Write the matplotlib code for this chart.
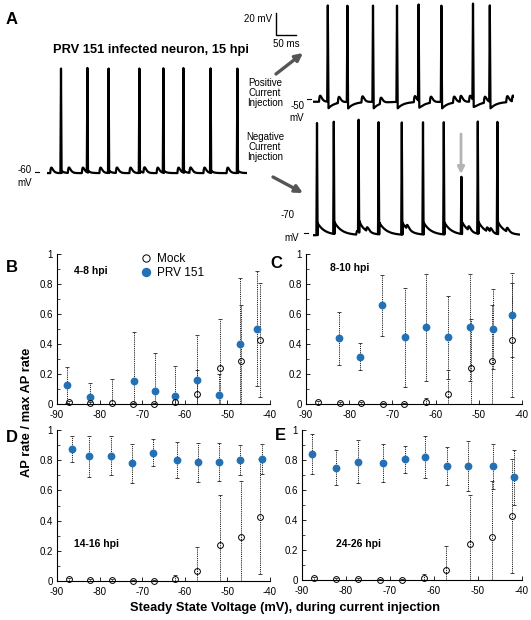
import numpy as np
import matplotlib
matplotlib.use('Agg')
import matplotlib.pyplot as plt

plt.rcParams['font.family'] = ['Liberation Sans', 'DejaVu Sans']
plt.rcParams['axes.unicode_minus'] = False

W, H = 531, 620
BLUE = '#2371b4'

# ---- voltage traces (times in ms) ----
LEFT_SPIKES = [35, 101, 154, 231, 291, 341, 409, 476]
LEFT_BUMPS = [8, 52, 87, 131, 172, 206, 241, 274, 326, 356, 391, 449]
POS_SPIKES = [37, 86, 150, 210, 264, 321, 400, 442]
POS_BUMPS = [15, 62, 121, 167, 252, 292, 350, 367, 390, 427, 483, 497]
NEG_SPIKES = [10, 52, 114, 164, 222, 275, 327, 371, 412, 461]
NEG_PEAKS = [30, 30, 30, 30, 30, 30, 30, -20, 30, 30]
NEG_BUMPS = [108, 133, 233, 387, 433, 442, 483]

# ---- AP rate data ----
MOCK_X = [-87.3, -82.2, -77.2, -72.2, -67.2, -62.3, -57.2, -51.8, -46.9, -42.3]
MOCK_Y = [0.012, 0.008, 0.005, 0.003, 0.003, 0.012, 0.065, 0.24, 0.29, 0.425]
MOCK_SD = [0.01, 0.008, 0.008, 0.005, 0.005, 0.025, 0.16, 0.33, 0.37, 0.38]
MOCK_SD_B = [0.01, 0.008, 0.16, 0.005, 0.005, 0.025, 0.16, 0.33, 0.37, 0.38]

B_X = [-87.7, -82.3, -71.9, -67.0, -62.2, -57.2, -52.0, -47.0, -43.1]
B_Y = [0.127, 0.049, 0.153, 0.087, 0.053, 0.162, 0.058, 0.40, 0.502]
B_SD = [0.123, 0.093, 0.327, 0.255, 0.2, 0.30, 0.14, 0.44, 0.385]

C_X = [-82.3, -77.5, -72.4, -67.0, -62.2, -57.1, -52.1, -46.8, -42.4]
C_Y = [0.438, 0.316, 0.658, 0.444, 0.511, 0.444, 0.511, 0.50, 0.591]
C_SD = [0.175, 0.09, 0.205, 0.33, 0.355, 0.275, 0.355, 0.265, 0.28]

D_X = [-86.5, -82.5, -77.3, -72.5, -67.4, -61.9, -56.8, -52.0, -47.0, -41.8]
D_Y = [0.875, 0.825, 0.83, 0.78, 0.85, 0.80, 0.785, 0.79, 0.80, 0.81]
D_SD = [0.085, 0.135, 0.13, 0.13, 0.09, 0.12, 0.13, 0.125, 0.10, 0.10]

E_X = [-87.8, -82.3, -77.2, -71.6, -66.6, -62.0, -57.1, -52.2, -46.6, -41.8]
E_Y = [0.84, 0.75, 0.79, 0.78, 0.805, 0.82, 0.76, 0.76, 0.76, 0.685]
E_SD = [0.135, 0.115, 0.145, 0.125, 0.09, 0.14, 0.125, 0.165, 0.15, 0.185]

X_TICKS = [-90, -80, -70, -60, -50, -40]
Y_TICKS = [0, 0.2, 0.4, 0.6, 0.8, 1]
Y_LABELS = ['0', '0.2', '0.4', '0.6', '0.8', '1']

MS_PER_PX = 2.5
MV_PER_PX = 1 / 1.1


def box(x0, y0, x1, y1):
    return [x0 / W, 1 - y1 / H, (x1 - x0) / W, (y1 - y0) / H]


def spike_train(t, rest, spikes, peaks, after, tau, bumps, bump_amp):
    v = np.full(t.shape, float(rest))
    for ts, pk in zip(spikes, peaks):
        d = t - ts
        v += (pk - rest) * np.clip(1 - np.abs(d) / 1.5, 0, None)
        tail = d > 1.5
        v[tail] += after * np.exp(-(d[tail] - 1.5) / tau)
    for tb in bumps:
        d = (t - tb) / 3.0
        pos = d > 0
        v[pos] += bump_amp * d[pos] * np.exp(1 - d[pos])
    return v


def trace_axes(x0, x1, y0, y1, ref_px, ref_mv):
    ax = fig.add_axes(box(x0, y0, x1, y1))
    ax.set_xlim(0, (x1 - x0) * MS_PER_PX)
    ax.set_ylim(ref_mv - (y1 - ref_px) * MV_PER_PX, ref_mv + (ref_px - y0) * MV_PER_PX)
    ax.axis('off')
    return ax


def panel(rect, px, py, psd, mock_sd):
    ax = fig.add_axes(box(*rect))
    for xs, ys, sd in [(px, py, psd), (MOCK_X, MOCK_Y, mock_sd)]:
        eb = ax.errorbar(xs, ys, yerr=sd, fmt='none', ecolor='#222222',
                         elinewidth=0.7, capsize=1.6, capthick=0.6, zorder=2)
        eb[2][0].set_linestyle((0, (1.2, 1.0)))
    ax.plot(px, py, 'o', color=BLUE, ms=4.6, mec=BLUE, clip_on=False, zorder=3,
            label='PRV 151')
    ax.plot(MOCK_X, MOCK_Y, 'o', mfc='none', mec='black', mew=0.7, ms=4.2,
            clip_on=False, zorder=4, label='Mock')
    ax.set_xlim(-90, -40)
    ax.set_ylim(0, 1)
    ax.set_xticks(X_TICKS)
    ax.set_yticks(Y_TICKS)
    ax.set_yticklabels(Y_LABELS)
    ax.set_yticks(np.arange(0.1, 1.0, 0.2), minor=True)
    ax.tick_params(direction='in', length=3, width=0.6, labelsize=7)
    ax.tick_params(axis='x', pad=4)
    ax.tick_params(axis='y', pad=3)
    ax.tick_params(which='minor', direction='in', length=2, width=0.5)
    for s in ['top', 'right']:
        ax.spines[s].set_visible(False)
    for s in ['left', 'bottom']:
        ax.spines[s].set_linewidth(0.8)
    ax.patch.set_visible(False)
    return ax


fig = plt.figure(figsize=(W / 100, H / 100), dpi=100)
ov = fig.add_axes([0, 0, 1, 1])
ov.set_xlim(0, W)
ov.set_ylim(H, 0)
ov.axis('off')

# ---- panel A traces ----
ax = trace_axes(47, 247, 60, 185, 172, -60)
t = np.arange(0, 500, 0.25)
ax.plot(t, spike_train(t, -61, LEFT_SPIKES, [34] * len(LEFT_SPIKES), 2, 6, LEFT_BUMPS, 5),
        color='black', lw=1.6)

ax = trace_axes(313, 514, 0, 112, 99, -50)
t = np.arange(0, 502, 0.25)
ax.plot(t, spike_train(t, -52.5, POS_SPIKES, [35] * len(POS_SPIKES), -6, 15, POS_BUMPS, 5.5),
        color='black', lw=1.6)

ax = trace_axes(313, 520, 115, 240, 233, -70)
t = np.arange(0, 517, 0.25)
ax.plot(t, spike_train(t, -72, NEG_SPIKES, NEG_PEAKS, 11, 18, NEG_BUMPS, 3.5),
        color='black', lw=1.6)

tsz = 7
ov.text(12, 20, 'A', fontsize=12, fontweight='bold', ha='center', va='center')
ov.text(151, 50, 'PRV 151 infected neuron, 15 hpi', fontsize=9.3, fontweight='bold',
        ha='center', va='center')
ov.text(25, 170, '-60', fontsize=tsz, ha='center', va='center')
ov.text(25, 183, 'mV', fontsize=tsz, ha='center', va='center')
ov.plot([35, 39], [172, 172], color='black', lw=0.8)
ov.text(298, 106, '-50', fontsize=tsz, ha='center', va='center')
ov.text(297, 118, 'mV', fontsize=tsz, ha='center', va='center')
ov.plot([307, 311], [99, 99], color='black', lw=0.8)
ov.text(288, 215, '-70', fontsize=tsz, ha='center', va='center')
ov.text(292, 238, 'mV', fontsize=tsz, ha='center', va='center')
ov.plot([304, 308], [233, 233], color='black', lw=0.8)

# scale bar
ov.plot([275.7, 275.7, 296], [13.3, 35, 35], color='black', lw=1.0)
ov.text(258, 18.5, '20 mV', fontsize=tsz, ha='center', va='center')
ov.text(286, 44, '50 ms', fontsize=tsz, ha='center', va='center')

ov.text(265, 93, 'Positive\nCurrent\nInjection', fontsize=tsz, ha='center', va='center',
        linespacing=1.05)
ov.text(265, 147, 'Negative\nCurrent\nInjection', fontsize=tsz, ha='center', va='center',
        linespacing=1.05)
arrow = dict(arrowstyle='-|>', lw=2.4, color='#555555', mutation_scale=11, shrinkA=0, shrinkB=0)
ov.annotate('', xy=(303, 53), xytext=(276, 74), arrowprops=arrow)
ov.annotate('', xy=(303, 193), xytext=(273, 177), arrowprops=arrow)
ov.annotate('', xy=(461, 174), xytext=(461, 134),
            arrowprops=dict(arrowstyle='-|>', lw=2.0, color='#b4b4b4', mutation_scale=10,
                            shrinkA=0, shrinkB=0))

# ---- panels B-E ----
axB = panel((57, 254, 270, 404), B_X, B_Y, B_SD, MOCK_SD_B)
panel((306, 254, 522, 404), C_X, C_Y, C_SD, MOCK_SD)
panel((57, 430, 270, 581), D_X, D_Y, D_SD, MOCK_SD)
panel((302, 430, 522, 580), E_X, E_Y, E_SD, MOCK_SD)

h, l = axB.get_legend_handles_labels()
axB.legend(h[::-1], l[::-1], loc='upper left', bbox_to_anchor=(140, 253),
           bbox_transform=ov.transData, frameon=False, fontsize=8.5,
           handlelength=1.0, handletextpad=0.4, labelspacing=0.15,
           borderpad=0, borderaxespad=0, markerscale=1.25)

for txt, x, y in [('B', 12, 268), ('C', 276, 263), ('D', 12, 437), ('E', 280, 435)]:
    ov.text(x, y, txt, fontsize=12, fontweight='bold', ha='center', va='center')
for txt, x, y in [('4-8 hpi', 91, 271), ('8-10 hpi', 350, 268),
                  ('14-16 hpi', 97, 544), ('24-26 hpi', 358, 544)]:
    ov.text(x, y, txt, fontsize=7.5, fontweight='bold', ha='center', va='center')

ov.text(27, 412, 'AP rate / max AP rate', fontsize=9.3, fontweight='bold',
        rotation=90, ha='center', va='center')
ov.text(285, 608, 'Steady State Voltage (mV), during current injection', fontsize=9.3,
        fontweight='bold', ha='center', va='center')

fig.savefig('out.png', dpi=100)
